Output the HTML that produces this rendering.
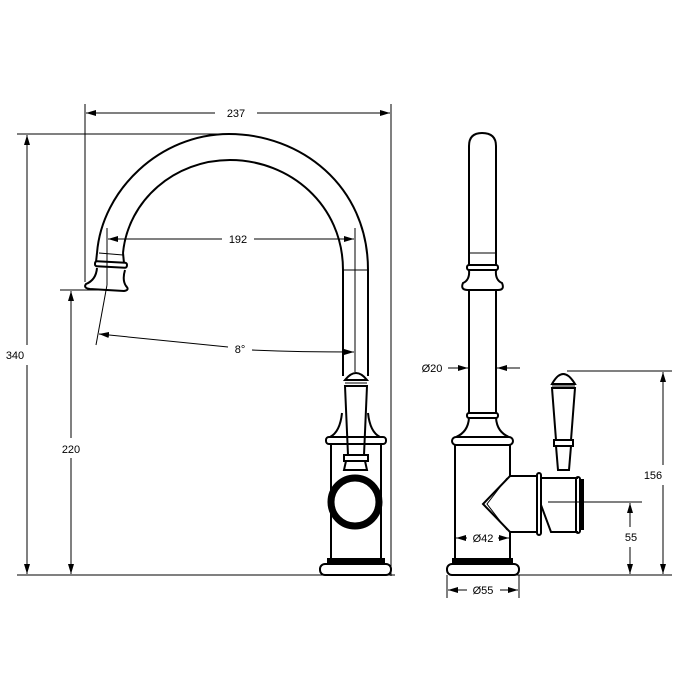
<!DOCTYPE html>
<html><head><meta charset="utf-8"><style>
html,body{margin:0;padding:0;background:#fff;}
svg{display:block;}
text{font-family:"Liberation Sans",sans-serif;font-size:11px;fill:#000;}
</style></head><body>
<svg width="700" height="700" viewBox="0 0 700 700" xmlns="http://www.w3.org/2000/svg">
<defs>
<marker id="a" viewBox="0 0 10 6" refX="10" refY="3" markerWidth="10" markerHeight="6" orient="auto-start-reverse" markerUnits="userSpaceOnUse"><path d="M0,0 L10,3 L0,6 Z" fill="#000"/></marker>
</defs>
<g fill="none" stroke="#000" stroke-width="1">
<line x1="85" y1="104" x2="85" y2="282"/>
<line x1="391" y1="104" x2="391" y2="576"/>
<line x1="86" y1="113" x2="215" y2="113" marker-start="url(#a)"/>
<line x1="257" y1="113" x2="390" y2="113" marker-end="url(#a)"/>
<line x1="17" y1="134" x2="228" y2="134"/>
<line x1="17" y1="575" x2="395" y2="575"/>
<line x1="60" y1="290" x2="100" y2="290"/>
<line x1="27" y1="135" x2="27" y2="345" marker-start="url(#a)"/>
<line x1="27" y1="365" x2="27" y2="574" marker-end="url(#a)"/>
<line x1="71" y1="291" x2="71" y2="438" marker-start="url(#a)"/>
<line x1="71" y1="458" x2="71" y2="574" marker-end="url(#a)"/>
<line x1="107" y1="228" x2="107" y2="285"/>
<line x1="355" y1="228" x2="355" y2="372"/>
<line x1="108" y1="239" x2="222" y2="239" marker-start="url(#a)"/>
<line x1="254" y1="239" x2="354" y2="239" marker-end="url(#a)"/>
<line x1="107" y1="285" x2="96" y2="345"/>
<path d="M99,334 Q160,340 228,347" marker-start="url(#a)"/>
<path d="M252,350 Q300,352 354,352" marker-end="url(#a)"/>
</g>
<g fill="none" stroke="#000" stroke-width="2">
<path d="M97,253 C102,190 160,134 229,134 C300,134 368,185 368,270"/>
<path d="M123,253 C128,200 175,160 230,160 C290,160 343,205 343,270"/>
<line x1="97" y1="253" x2="96" y2="262"/>
<line x1="123" y1="253" x2="124" y2="263"/>
<line x1="343" y1="270" x2="368" y2="270" stroke-width="1"/>
<line x1="343" y1="270" x2="343" y2="376"/>
<line x1="368" y1="270" x2="368" y2="376"/>
<line x1="99" y1="253" x2="123" y2="255" stroke-width="1"/>
<rect x="95" y="262" width="32" height="5" rx="2" transform="rotate(3 111 264)"/>
<path d="M97,268 Q96,280 86,284 Q83,288 90,289 L124,291 Q130,290 126,286 Q122,280 125,270"/>
<path d="M345,380 Q356,366 367,380 Z"/>
<line x1="345" y1="383" x2="367" y2="383" stroke-width="1"/>
<path d="M345,386 L348,455 L364,455 L367,386 Z"/>
<rect x="344" y="455" width="24" height="6"/>
<path d="M346,461 L344,470 L367,470 L365,461"/>
<path d="M342,413 Q340,432 330,437 M368,413 Q370,432 380,437"/>
<rect x="326" y="437" width="60" height="7" rx="3"/>
<line x1="331" y1="444" x2="331" y2="560"/>
<line x1="381" y1="444" x2="381" y2="560"/>
<rect x="328" y="559" width="56" height="5" fill="#000"/>
<rect x="320" y="564" width="71" height="11" rx="5"/>
<circle cx="355" cy="502" r="24" stroke-width="7" fill="#fff"/>
</g>
<g fill="none" stroke="#000" stroke-width="2">
<path d="M469,265 L469,146 Q469,133 482,133 Q496,133 496,146 L496,265"/>
<line x1="469" y1="253" x2="496" y2="253" stroke-width="1"/>
<rect x="467" y="265" width="31" height="5" rx="2"/>
<path d="M469,270 Q470,280 463,283 Q460,290 468,290 L498,290 Q505,290 502,283 Q495,280 496,270"/>
<line x1="469" y1="290" x2="469" y2="413"/>
<line x1="496" y1="290" x2="496" y2="413"/>
<rect x="467" y="413" width="31" height="5" rx="2"/>
<path d="M469,418 Q468,432 456,437 M496,418 Q497,432 509,437"/>
<rect x="452" y="437" width="61" height="8" rx="4"/>
<line x1="455" y1="445" x2="455" y2="560"/>
<line x1="510" y1="445" x2="510" y2="476"/>
<line x1="510" y1="532" x2="510" y2="560"/>
<rect x="453" y="559" width="59" height="5" fill="#000"/>
<rect x="447" y="564" width="72" height="11" rx="5"/>
<path d="M510,476 L483,504 L510,532"/>
<path d="M507,478 L487,504 L507,530" stroke-width="1"/>
<line x1="510" y1="476" x2="537" y2="476"/>
<line x1="510" y1="532" x2="537" y2="532"/>
<rect x="537" y="473" width="4" height="62" rx="2"/>
<path d="M541,478 L578,478 M541,478 L541,505 L551,532 L578,532"/>
<rect x="576" y="477" width="4" height="56" rx="2"/>
<rect x="580" y="480" width="3" height="49" fill="#000"/>
<path d="M552,384 Q563,364 575,384 Z"/>
<line x1="552" y1="386" x2="575" y2="386" stroke-width="1"/>
<path d="M552,388 L556,440 L571,440 L575,388 Z"/>
<rect x="554" y="440" width="19" height="6"/>
<path d="M556,446 L558,470 L569,470 L571,446"/>
</g>
<g fill="none" stroke="#000" stroke-width="1">
<line x1="448" y1="368" x2="468" y2="368" marker-end="url(#a)"/>
<line x1="520" y1="368" x2="497" y2="368" marker-end="url(#a)"/>
<line x1="567" y1="371" x2="672" y2="371"/>
<line x1="663" y1="372" x2="663" y2="465" marker-start="url(#a)"/>
<line x1="663" y1="485" x2="663" y2="574" marker-end="url(#a)"/>
<line x1="515" y1="575" x2="672" y2="575"/>
<line x1="548" y1="502" x2="642" y2="502"/>
<line x1="630" y1="503" x2="630" y2="527" marker-start="url(#a)"/>
<line x1="630" y1="547" x2="630" y2="574" marker-end="url(#a)"/>
<line x1="467" y1="538" x2="456" y2="538" marker-end="url(#a)"/>
<line x1="498" y1="538" x2="509" y2="538" marker-end="url(#a)"/>
<line x1="447" y1="575" x2="447" y2="598"/>
<line x1="519" y1="575" x2="519" y2="598"/>
<line x1="467" y1="590" x2="448" y2="590" marker-end="url(#a)"/>
<line x1="500" y1="590" x2="518" y2="590" marker-end="url(#a)"/>
</g>
<g>
<rect x="216" y="106" width="40" height="14" fill="#fff"/>
<text x="236" y="117" text-anchor="middle">237</text>
<rect x="224" y="232" width="28" height="14" fill="#fff"/>
<text x="238" y="243" text-anchor="middle">192</text>
<text x="240" y="353" text-anchor="middle">8°</text>
<rect x="6" y="346" width="34" height="16" fill="#fff"/>
<text x="15" y="359" text-anchor="middle">340</text>
<rect x="58" y="440" width="28" height="16" fill="#fff"/>
<text x="71" y="453" text-anchor="middle">220</text>
<text x="432" y="372" text-anchor="middle">Ø20</text>
<text x="483" y="542" text-anchor="middle">Ø42</text>
<text x="483" y="594" text-anchor="middle">Ø55</text>
<text x="631" y="541" text-anchor="middle">55</text>
<text x="653" y="479" text-anchor="middle">156</text>
</g>
</svg>
</body></html>
